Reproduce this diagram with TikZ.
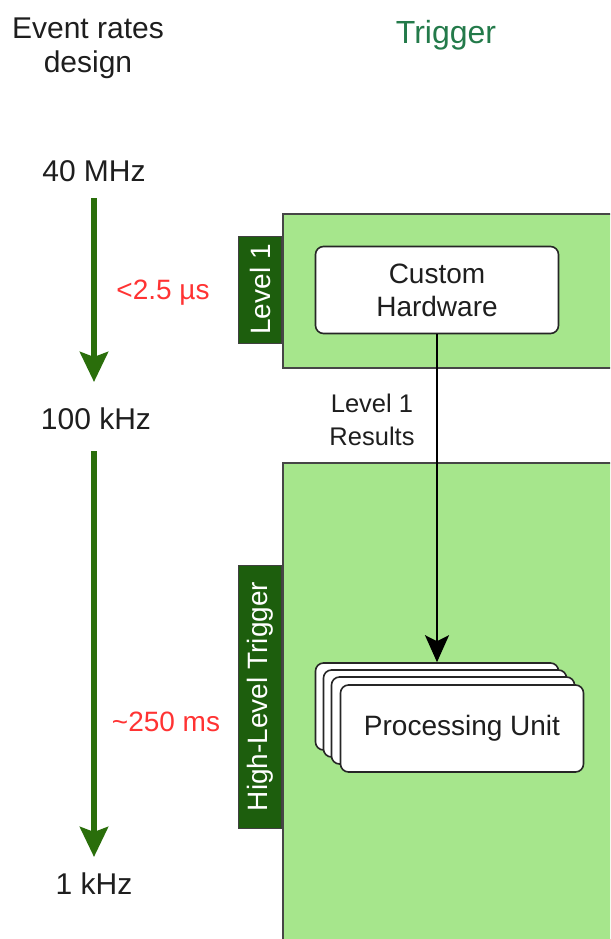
\documentclass[tikz,border=0pt]{standalone}
\usepackage{fontspec}
\setmainfont{Liberation Sans}
\usetikzlibrary{arrows.meta}
\definecolor{panelgreen}{RGB}{166,230,140}
\definecolor{tabgreen}{RGB}{29,94,13}
\definecolor{arrowgreen}{RGB}{42,110,11}
\definecolor{titlegreen}{RGB}{35,122,74}
\definecolor{latred}{RGB}{255,51,51}
\definecolor{txt}{RGB}{30,30,30}
\definecolor{edge}{RGB}{70,70,70}
\begin{document}
\begin{tikzpicture}[x=1pt,y=-1pt,
  rate/.style={font=\fontsize{30}{34}\selectfont, text=txt, inner sep=0pt},
  lat/.style={font=\fontsize{28}{32}\selectfont, text=latred, inner sep=0pt},
  panel/.style={fill=panelgreen, draw=edge, line width=1.5pt, anchor=north west, inner sep=0pt},
  tab/.style={fill=tabgreen, draw=black!75, line width=1pt, text=white, rotate=90,
    font=\fontsize{28}{32}\selectfont, inner sep=0pt, minimum height=43pt},
  box/.style={fill=white, draw=black!85, line width=1.6pt, rounded corners=8pt,
    minimum width=243pt, minimum height=87pt, inner sep=0pt, align=center,
    font=\fontsize{28}{33}\selectfont, text=txt},
  garrow/.style={draw=arrowgreen, line width=6pt, -{Stealth[length=30pt,width=28pt,inset=5pt]}},
  karrow/.style={draw=black, line width=2.2pt, -{Stealth[length=27pt,width=24pt,inset=6pt]}}
]
\useasboundingbox (0,0) rectangle (610,939);
\clip (0,0) rectangle (610,939);

% headers
\node[rate, align=center] (hdr) at (88,48) {Event rates\\design};
\node[font=\fontsize{32}{36}\selectfont, text=titlegreen, inner sep=0pt] (trig) at (446,35) {Trigger};

% rates column
\node[rate] (r40) at (94,171) {40 MHz};
\node[rate] (r100) at (96,419) {100 kHz};
\node[rate] (r1) at (94,884) {1 kHz};
\coordinate (a1s) at (94,198);
\coordinate (a1e) at (94,382);
\coordinate (a2s) at (94,451);
\coordinate (a2e) at (94,857);
\draw[garrow] (a1s) -- (a1e);
\draw[garrow] (a2s) -- (a2e);
\node[lat] (lat1) at (163,293) {<2.5 µs};
\node[lat] (lat2) at (166,722) {\textasciitilde 250 ms};

% panels
\node[panel, minimum width=345pt, minimum height=154pt] (l1panel) at (282,213) {};
\node[panel, minimum width=345pt, minimum height=500pt] (hltpanel) at (282,462) {};
\node[tab, minimum width=107pt] (l1tab) at (260,289.5) {Level 1};
\node[tab, minimum width=263pt] (hlttab) at (260,696.5) {High-Level Trigger};

% boxes
\node[box] (ch) at (437,290) {Custom\\Hardware};
\node[box] (pu1) at (437,706.5) {};
\node[box] (pu2) at (445,713.5) {};
\node[box] (pu3) at (453,720.5) {};
\node[box] (pu4) at (462,728.5) {Processing Unit};

\draw[karrow] (ch.south) -- (ch.south |- pu1.north);
\node[font=\fontsize{25.5}{33}\selectfont, text=txt, align=center, inner sep=0pt] (res) at (372,420) {Level 1\\Results};
\end{tikzpicture}
\end{document}
